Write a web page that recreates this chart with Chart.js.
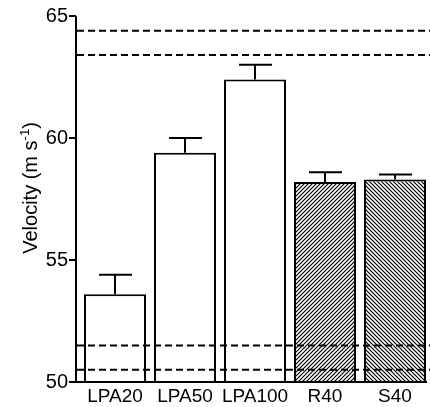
<!DOCTYPE html>
<html>
<head>
<meta charset="utf-8">
<script src="https://cdn.jsdelivr.net/npm/chart.js@4"></script>
<style>
body{margin:0;background:#fff;}
canvas{display:block;}
</style>
</head>
<body>
<canvas id="chart" width="430" height="407"></canvas>
<script>
// data
const categories = ["LPA20","LPA50","LPA100","R40","S40"];
const means = [53.6,59.4,62.4,58.2,58.3];
const errors = [0.8,0.6,0.6,0.4,0.2];
const dashedLines = [64.4,63.4,51.5,50.5];
const yTicks = [50,55,60,65];

const FONT = "Liberation Sans, Arial, Helvetica, sans-serif";

function hatch(dir){
let s = 4;
let t = document.createElement("canvas");
t.width = s; t.height = s;
let g = t.getContext("2d");
g.fillStyle = "#fff";
g.fillRect(0,0,s,s);
g.strokeStyle = "#000";
g.lineWidth = 1.2;
g.beginPath();
if(dir == "/"){
g.moveTo(-1,s+1); g.lineTo(s+1,-1);
g.moveTo(-1,1); g.lineTo(1,-1);
g.moveTo(s-1,s+1); g.lineTo(s+1,s-1);
}else{
g.moveTo(-1,-1); g.lineTo(s+1,s+1);
g.moveTo(s-1,-1); g.lineTo(s+1,1);
g.moveTo(-1,s-1); g.lineTo(1,s+1);
}
g.stroke();
return document.getElementById("chart").getContext("2d").createPattern(t,"repeat");
}

const fills = ["#fff","#fff","#fff",hatch("/"),hatch("\\")];

const extras = {
id:"extras",
afterDatasetsDraw(chart){
const c = chart.ctx;
const y = chart.scales.y;
const a = chart.chartArea;
const ax = a.left - 4;
c.save();
c.strokeStyle = "#000";
c.lineWidth = 2;

// error bars
chart.getDatasetMeta(0).data.forEach((bar,i)=>{
let top = y.getPixelForValue(means[i] + errors[i]);
c.beginPath();
c.moveTo(bar.x, bar.y);
c.lineTo(bar.x, top);
c.moveTo(bar.x - 16, top);
c.lineTo(bar.x + 17, top);
c.stroke();
});

// axis lines and ticks
let y0 = y.getPixelForValue(yTicks[0]);
let y1 = y.getPixelForValue(yTicks[yTicks.length-1]);
c.beginPath();
c.moveTo(ax, y1);
c.lineTo(ax, y0);
c.lineTo(a.right - 3, y0);
yTicks.forEach(v=>{
let p = y.getPixelForValue(v);
c.moveTo(ax - 7, p);
c.lineTo(ax, p);
});
c.stroke();

// dashed reference lines
c.setLineDash([7,4]);
dashedLines.forEach(v=>{
let p = y.getPixelForValue(v);
c.beginPath();
c.moveTo(ax + 1, p);
c.lineTo(a.right, p);
c.stroke();
});
c.restore();
},
afterDraw(chart){
const c = chart.ctx;
c.save();
c.fillStyle = "#000";
c.translate(37, 188);
c.rotate(-Math.PI/2);
c.textBaseline = "alphabetic";
c.textAlign = "left";
let main = "Velocity (m s";
let sup = "-1";
c.font = "20px " + FONT;
let w1 = c.measureText(main).width;
let w3 = c.measureText(")").width;
c.font = "13px " + FONT;
let w2 = c.measureText(sup).width;
let x = -(w1 + w2 + w3)/2;
c.font = "20px " + FONT;
c.fillText(main, x, 0);
c.font = "13px " + FONT;
c.fillText(sup, x + w1, -8);
c.font = "20px " + FONT;
c.fillText(")", x + w1 + w2, 0);
c.restore();
}
};

new Chart(document.getElementById("chart"),{
type:"bar",
data:{
labels:categories,
datasets:[{
data:means,
backgroundColor:fills,
borderColor:"#000",
borderWidth:2,
borderSkipped:false,
barPercentage:0.886,
categoryPercentage:1
}]
},
options:{
responsive:false,
animation:false,
layout:{padding:{top:16,right:0,bottom:0,left:0}},
plugins:{
legend:{display:false},
tooltip:{enabled:false}
},
scales:{
x:{
grid:{display:false,drawTicks:false},
border:{display:false},
ticks:{color:"#000",font:{family:FONT,size:19},padding:3,maxRotation:0},
afterFit(s){ s.height = 25; s.paddingLeft = 0; s.paddingRight = 0; }
},
y:{
min:50,
max:65,
grid:{display:false,drawTicks:false},
border:{display:false},
ticks:{color:"#000",font:{family:FONT,size:20},padding:12},
afterBuildTicks(s){ s.ticks = yTicks.map(v=>({value:v})); },
afterFit(s){ s.width = 80; s.paddingTop = 0; s.paddingBottom = 0; }
}
}
},
plugins:[extras]
});
</script>
</body>
</html>
